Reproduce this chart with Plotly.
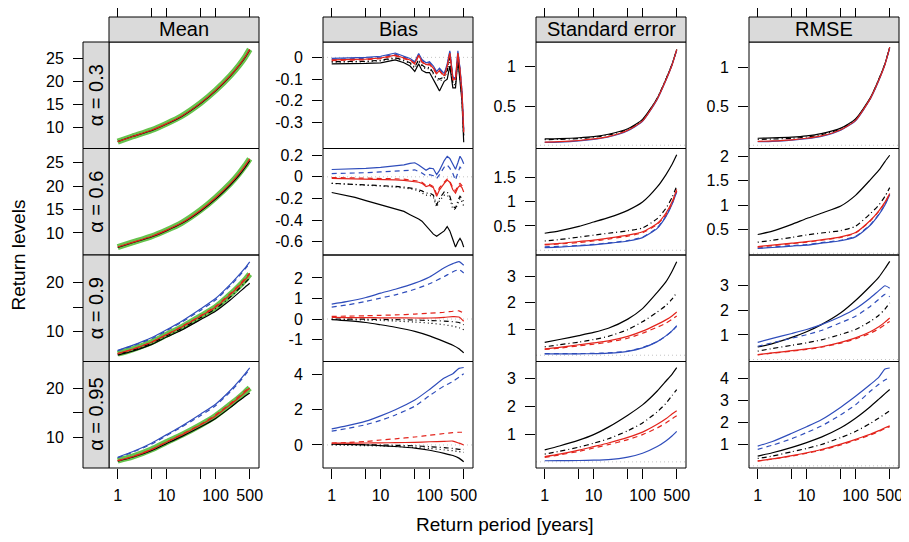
import plotly.graph_objects as go

# ---------------- data ----------------
X_S = [1, 2, 5, 10, 20, 50, 100, 200, 300, 400, 500]
X_N = [1, 2, 3, 5, 10, 20, 30, 40, 50, 60, 70, 85, 100, 120, 140, 160, 200, 230, 260, 300, 340, 380, 420, 460, 500]

COLUMNS = ["Mean", "Bias", "Standard error", "RMSE"]
ROWS = ["α = 0.3", "α = 0.6", "α = 0.9", "α = 0.95"]
X_TICKVALS = [1, 5, 10, 50, 100, 500]
X_TICKTEXT = ["1", "", "10", "", "100", "500"]

# Mean
M1_TRUE = [6.9, 8.0, 9.4, 10.8, 12.4, 15.3, 18.0, 21.2, 23.4, 25.2, 26.9]
M1_BLACK = [6.9, 8.0, 9.3, 10.7, 12.3, 15.2, 17.9, 21.1, 23.3, 25.1, 26.8]
M1_RED = [6.9, 8.0, 9.4, 10.8, 12.4, 15.3, 18.0, 21.2, 23.4, 25.2, 26.9]
M2_TRUE = [7.0, 8.0, 9.3, 10.6, 12.1, 14.9, 17.5, 20.5, 22.6, 24.3, 25.8]
M2_BLACK = [6.9, 7.9, 9.2, 10.5, 12.0, 14.7, 17.2, 20.2, 22.2, 23.9, 25.4]
M2_RED = [7.0, 8.0, 9.3, 10.6, 12.1, 14.9, 17.5, 20.5, 22.6, 24.3, 25.8]
M3_TRUE = [5.5, 6.4, 7.9, 9.4, 10.9, 13.2, 15.0, 17.6, 19.3, 20.6, 21.8]
M3_BLUE = [6.2, 7.2, 8.8, 10.4, 12.1, 14.7, 16.8, 19.7, 21.6, 23.0, 24.3]
M3_BLUE_D = [6.1, 7.1, 8.6, 10.2, 11.9, 14.4, 16.5, 19.4, 21.3, 22.8, 24.0]
M3_BLACK = [5.2, 6.0, 7.4, 8.9, 10.3, 12.5, 14.2, 16.5, 18.0, 19.1, 19.9]
M3_BLACK_DD = [5.4, 6.2, 7.7, 9.2, 10.6, 12.9, 14.7, 17.1, 18.8, 20.0, 21.0]
M3_RED = [5.5, 6.4, 7.9, 9.4, 10.9, 13.2, 15.0, 17.6, 19.3, 20.6, 21.8]
M3_RED_D = [5.5, 6.4, 7.9, 9.4, 11.0, 13.3, 15.2, 17.8, 19.5, 20.9, 22.0]
M4_TRUE = [5.2, 6.0, 7.5, 9.0, 10.4, 12.5, 14.3, 16.6, 18.0, 19.1, 20.0]
M4_BLUE = [5.9, 7.0, 8.8, 10.5, 12.2, 14.7, 16.7, 19.5, 21.4, 22.9, 24.1]
M4_BLUE_D = [5.8, 6.9, 8.6, 10.3, 12.0, 14.4, 16.4, 19.2, 21.1, 22.6, 23.8]
M4_BLACK = [5.1, 5.9, 7.3, 8.7, 10.1, 12.1, 13.8, 16.0, 17.4, 18.3, 19.0]
M4_RED = [5.2, 6.0, 7.5, 9.0, 10.4, 12.5, 14.3, 16.6, 18.0, 19.1, 20.0]
M4_RED_D = [5.2, 6.0, 7.5, 9.0, 10.5, 12.6, 14.5, 16.8, 18.3, 19.4, 20.2]

# Bias (rows 1-2 on the dense grid X_N)
B1_BLUE = [-0.005, -0.003, -0.002, 0.0, 0.005, 0.02, 0.005, -0.005, -0.02, 0.018, -0.01, -0.025, -0.02, -0.04, -0.065, -0.05, -0.075, -0.03, 0.03, -0.09, -0.095, 0.03, -0.05, -0.15, -0.33]
B1_BLUE_D = [-0.009, -0.007, -0.006, -0.004, 0.001, 0.015, 0.001, -0.009, -0.024, 0.013, -0.014, -0.029, -0.024, -0.044, -0.069, -0.054, -0.079, -0.035, 0.024, -0.094, -0.1, 0.024, -0.055, -0.155, -0.335]
B1_RED = [-0.012, -0.011, -0.01, -0.008, -0.003, 0.01, -0.003, -0.012, -0.028, 0.01, -0.02, -0.033, -0.03, -0.05, -0.075, -0.06, -0.085, -0.04, 0.02, -0.1, -0.1, 0.02, -0.06, -0.16, -0.34]
B1_RED_D = [-0.015, -0.014, -0.013, -0.011, -0.006, 0.007, -0.006, -0.015, -0.031, 0.007, -0.023, -0.036, -0.033, -0.053, -0.078, -0.063, -0.088, -0.043, 0.016, -0.104, -0.104, 0.016, -0.064, -0.165, -0.345]
B1_BLACK_DD = [-0.02, -0.02, -0.02, -0.018, -0.013, -0.002, -0.013, -0.025, -0.045, -0.01, -0.035, -0.05, -0.045, -0.07, -0.095, -0.1, -0.09, -0.06, 0.0, -0.12, -0.12, 0.0, -0.08, -0.18, -0.36]
B1_BLACK_DOT = [-0.022, -0.022, -0.022, -0.02, -0.016, -0.005, -0.016, -0.028, -0.05, -0.015, -0.04, -0.055, -0.05, -0.075, -0.1, -0.11, -0.095, -0.065, -0.005, -0.125, -0.125, -0.005, -0.085, -0.19, -0.37]
B1_BLACK = [-0.03, -0.03, -0.03, -0.028, -0.025, -0.012, -0.025, -0.04, -0.065, -0.03, -0.06, -0.07, -0.07, -0.1, -0.13, -0.155, -0.11, -0.1, -0.04, -0.14, -0.14, -0.01, -0.1, -0.2, -0.39]

B2_BLUE = [0.068, 0.07, 0.072, 0.078, 0.088, 0.1, 0.11, 0.125, 0.13, 0.11, 0.09, 0.06, 0.08, 0.075, 0.02, 0.06, 0.15, 0.19, 0.17, 0.12, 0.07, 0.13, 0.19, 0.16, 0.12]
B2_BLUE_D = [0.03, 0.032, 0.034, 0.038, 0.045, 0.05, 0.055, 0.06, 0.065, 0.05, 0.035, 0.01, 0.02, 0.01, -0.015, 0.02, 0.09, 0.11, 0.08, 0.03, -0.03, 0.04, 0.09, 0.07, 0.05]
B2_RED = [-0.015, -0.017, -0.018, -0.02, -0.025, -0.028, -0.032, -0.038, -0.04, -0.05, -0.06, -0.09, -0.08, -0.1, -0.18, -0.12, -0.06, -0.03, -0.05, -0.12, -0.15, -0.1, -0.08, -0.1, -0.14]
B2_RED_D = [-0.006, -0.008, -0.009, -0.01, -0.015, -0.018, -0.022, -0.028, -0.03, -0.04, -0.05, -0.08, -0.07, -0.09, -0.16, -0.1, -0.05, -0.02, -0.04, -0.1, -0.13, -0.08, -0.06, -0.08, -0.12]
B2_BLACK_DD = [-0.06, -0.065, -0.068, -0.072, -0.08, -0.088, -0.095, -0.1, -0.11, -0.12, -0.13, -0.15, -0.15, -0.17, -0.26, -0.2, -0.14, -0.14, -0.18, -0.27, -0.29, -0.22, -0.18, -0.2, -0.23]
B2_BLACK_DOT = [-0.06, -0.066, -0.07, -0.075, -0.085, -0.095, -0.1, -0.11, -0.12, -0.13, -0.15, -0.17, -0.17, -0.19, -0.28, -0.22, -0.17, -0.17, -0.2, -0.3, -0.3, -0.24, -0.2, -0.23, -0.27]
B2_BLACK = [-0.145, -0.17, -0.19, -0.22, -0.26, -0.3, -0.32, -0.35, -0.37, -0.39, -0.41, -0.45, -0.49, -0.53, -0.55, -0.53, -0.5, -0.46, -0.5, -0.58, -0.65, -0.6, -0.57, -0.6, -0.65]

B3_BLUE = [0.73, 0.85, 1.05, 1.26, 1.45, 1.75, 2.05, 2.5, 2.7, 2.8, 2.62]
B3_BLUE_D = [0.58, 0.68, 0.86, 1.02, 1.18, 1.45, 1.72, 2.07, 2.3, 2.4, 2.24]
B3_RED_D = [0.13, 0.14, 0.16, 0.18, 0.2, 0.24, 0.28, 0.33, 0.38, 0.4, 0.29]
B3_RED = [0.08, 0.07, 0.07, 0.06, 0.06, 0.05, 0.05, 0.08, 0.12, 0.1, -0.11]
B3_BLACK_DD = [0.0, 0.0, -0.01, -0.02, -0.03, -0.05, -0.07, -0.1, -0.13, -0.17, -0.28]
B3_BLACK_DOT = [-0.02, -0.03, -0.05, -0.07, -0.1, -0.15, -0.2, -0.28, -0.35, -0.42, -0.52]
B3_BLACK = [-0.03, -0.08, -0.17, -0.28, -0.4, -0.6, -0.82, -1.1, -1.28, -1.45, -1.65]

B4_BLUE = [0.91, 1.08, 1.35, 1.65, 2.0, 2.55, 3.15, 3.8, 4.05, 4.35, 4.4]
B4_BLUE_D = [0.78, 0.93, 1.15, 1.4, 1.7, 2.2, 2.8, 3.35, 3.6, 3.85, 4.05]
B4_RED_D = [0.1, 0.14, 0.2, 0.28, 0.35, 0.45, 0.55, 0.65, 0.7, 0.72, 0.72]
B4_RED = [0.1, 0.1, 0.11, 0.12, 0.13, 0.15, 0.18, 0.2, 0.22, 0.1, 0.0]
B4_BLACK_DD = [0.04, 0.03, 0.02, 0.0, -0.02, -0.05, -0.1, -0.15, -0.2, -0.25, -0.25]
B4_BLACK_DOT = [0.0, -0.02, -0.04, -0.06, -0.09, -0.14, -0.2, -0.28, -0.33, -0.38, -0.42]
B4_BLACK = [0.04, 0.03, 0.0, -0.04, -0.09, -0.18, -0.3, -0.48, -0.6, -0.75, -0.95]

# Standard error
S1_BLACK = [0.081, 0.085, 0.095, 0.11, 0.14, 0.21, 0.33, 0.6, 0.84, 1.03, 1.22]
S1_BLACK_DD = [0.07, 0.075, 0.085, 0.1, 0.13, 0.2, 0.32, 0.6, 0.84, 1.03, 1.22]
S1_RED = [0.04, 0.045, 0.06, 0.08, 0.11, 0.19, 0.31, 0.59, 0.83, 1.02, 1.22]
S1_BLUE = [0.035, 0.04, 0.055, 0.075, 0.105, 0.185, 0.305, 0.585, 0.825, 1.02, 1.21]
S2_BLACK = [0.35, 0.4, 0.49, 0.58, 0.67, 0.82, 0.99, 1.3, 1.55, 1.76, 1.96]
S2_BLACK_DD = [0.19, 0.22, 0.27, 0.31, 0.35, 0.4, 0.46, 0.65, 0.86, 1.08, 1.32]
S2_RED = [0.12, 0.14, 0.18, 0.21, 0.25, 0.31, 0.38, 0.55, 0.76, 0.99, 1.25]
S2_RED_D = [0.11, 0.13, 0.16, 0.19, 0.23, 0.29, 0.36, 0.53, 0.73, 0.96, 1.22]
S2_BLUE = [0.055, 0.065, 0.09, 0.11, 0.14, 0.19, 0.26, 0.45, 0.69, 0.94, 1.2]
S2_BLUE_D = [0.07, 0.08, 0.1, 0.12, 0.15, 0.2, 0.27, 0.46, 0.7, 0.95, 1.21]
S3_BLACK = [0.49, 0.6, 0.75, 0.87, 1.03, 1.38, 1.78, 2.4, 2.8, 3.2, 3.57]
S3_BLACK_DD = [0.32, 0.4, 0.5, 0.6, 0.72, 0.98, 1.28, 1.65, 1.9, 2.14, 2.39]
S3_RED = [0.24, 0.3, 0.4, 0.47, 0.55, 0.72, 0.92, 1.18, 1.35, 1.5, 1.65]
S3_RED_D = [0.22, 0.27, 0.36, 0.42, 0.5, 0.65, 0.84, 1.07, 1.22, 1.37, 1.5]
S3_BLUE = [0.05, 0.05, 0.055, 0.06, 0.08, 0.15, 0.28, 0.52, 0.74, 0.93, 1.13]
S3_BLUE_D = [0.06, 0.06, 0.065, 0.07, 0.09, 0.16, 0.29, 0.52, 0.73, 0.92, 1.1]
S4_BLACK = [0.43, 0.57, 0.78, 0.98, 1.25, 1.68, 2.05, 2.55, 2.9, 3.15, 3.39]
S4_BLACK_DD = [0.28, 0.38, 0.53, 0.67, 0.83, 1.12, 1.4, 1.8, 2.1, 2.38, 2.6]
S4_RED = [0.19, 0.28, 0.42, 0.55, 0.68, 0.88, 1.07, 1.35, 1.55, 1.72, 1.84]
S4_RED_D = [0.16, 0.25, 0.38, 0.5, 0.62, 0.8, 0.98, 1.22, 1.4, 1.55, 1.66]
S4_BLUE = [0.04, 0.045, 0.05, 0.06, 0.08, 0.17, 0.31, 0.55, 0.75, 0.93, 1.1]

# RMSE
R1_BLACK = [0.09, 0.094, 0.104, 0.12, 0.15, 0.22, 0.34, 0.61, 0.85, 1.05, 1.26]
R1_BLACK_DD = [0.075, 0.08, 0.09, 0.105, 0.135, 0.21, 0.33, 0.6, 0.85, 1.05, 1.26]
R1_RED = [0.05, 0.055, 0.07, 0.09, 0.12, 0.2, 0.32, 0.6, 0.84, 1.04, 1.26]
R1_BLUE = [0.045, 0.05, 0.065, 0.085, 0.115, 0.195, 0.315, 0.595, 0.835, 1.04, 1.25]
R2_BLACK = [0.39, 0.46, 0.6, 0.72, 0.83, 0.98, 1.2, 1.52, 1.72, 1.9, 2.03]
R2_BLACK_DD = [0.23, 0.27, 0.33, 0.38, 0.42, 0.47, 0.56, 0.82, 1.0, 1.18, 1.36]
R2_RED = [0.14, 0.17, 0.21, 0.24, 0.28, 0.34, 0.43, 0.68, 0.88, 1.06, 1.24]
R2_RED_D = [0.13, 0.16, 0.2, 0.23, 0.27, 0.33, 0.42, 0.67, 0.87, 1.05, 1.23]
R2_BLUE = [0.1, 0.12, 0.15, 0.17, 0.21, 0.26, 0.34, 0.58, 0.8, 1.0, 1.21]
R2_BLUE_D = [0.11, 0.13, 0.16, 0.18, 0.22, 0.27, 0.35, 0.59, 0.81, 1.01, 1.22]
R3_BLACK = [0.51, 0.65, 0.9, 1.13, 1.42, 1.9, 2.4, 2.98, 3.35, 3.7, 3.99]
R3_BLUE = [0.7, 0.86, 1.06, 1.22, 1.42, 1.75, 2.06, 2.5, 2.8, 3.0, 2.9]
R3_BLUE_D = [0.54, 0.68, 0.87, 1.01, 1.18, 1.5, 1.76, 2.16, 2.45, 2.65, 2.55]
R3_BLACK_DD = [0.34, 0.45, 0.58, 0.68, 0.8, 1.02, 1.22, 1.55, 1.8, 2.05, 2.3]
R3_RED = [0.2, 0.27, 0.36, 0.43, 0.52, 0.7, 0.88, 1.13, 1.33, 1.52, 1.69]
R3_RED_D = [0.19, 0.26, 0.34, 0.41, 0.5, 0.67, 0.84, 1.07, 1.25, 1.42, 1.55]
R4_BLUE = [0.91, 1.12, 1.5, 1.8, 2.12, 2.7, 3.2, 3.74, 4.08, 4.45, 4.5]
R4_BLUE_D = [0.76, 0.95, 1.25, 1.53, 1.83, 2.35, 2.81, 3.43, 3.75, 3.95, 4.05]
R4_BLACK = [0.45, 0.6, 0.85, 1.07, 1.32, 1.75, 2.19, 2.72, 3.07, 3.32, 3.51]
R4_BLACK_DD = [0.34, 0.45, 0.65, 0.8, 0.98, 1.3, 1.58, 1.95, 2.2, 2.38, 2.53]
R4_RED = [0.23, 0.32, 0.47, 0.6, 0.75, 1.0, 1.22, 1.45, 1.62, 1.75, 1.84]
R4_RED_D = [0.22, 0.31, 0.45, 0.58, 0.72, 0.96, 1.18, 1.42, 1.58, 1.72, 1.8]

# y axes (per row, per column)
Y_RANGES = [
    [[5.4, 28.5], [-0.419, 0.0706], [-0.042, 1.317], [-0.042, 1.33]],
    [[5.3, 28.0], [-0.723, 0.262], [-0.097, 2.09], [-0.035, 2.17]],
    [[3.9, 25.7], [-2.07, 3.12], [-0.24, 3.83], [-0.08, 4.25]],
    [[3.7, 25.4], [-1.31, 4.74], [-0.22, 3.61], [-0.1, 4.8]],
]
Y_TICKVALS = [
    [[10, 15, 20, 25], [0, -0.1, -0.2, -0.3], [0.5, 1], [0.5, 1]],
    [[10, 15, 20, 25], [0.2, 0, -0.2, -0.4, -0.6], [0.5, 1, 1.5], [0.5, 1, 1.5, 2]],
    [[10, 15, 20], [2, 1, 0, -1], [1, 2, 3], [1, 2, 3]],
    [[10, 15, 20], [4, 2, 0], [1, 2, 3], [1, 2, 3, 4]],
]
Y_TICKTEXT = [
    [["10", "15", "20", "25"], ["0", "-0.1", "-0.2", "-0.3"], ["0.5", "1"], ["0.5", "1"]],
    [["10", "15", "20", "25"], ["0.2", "0", "-0.2", "-0.4", "-0.6"], ["0.5", "1", "1.5"], ["0.5", "1", "1.5", "2"]],
    [["10", "", "20"], ["2", "1", "0", "-1"], ["1", "2", "3"], ["1", "2", "3"]],
    [["10", "", "20"], ["4", "2", "0"], ["1", "2", "3"], ["1", "2", "3", "4"]],
]

# ---------------- styling ----------------
W, H = 909, 542
OFF = 8  # page body margin of the html page
COL_L = [109 - OFF, 323 - OFF, 536 - OFF, 749 - OFF]
PW = 150
ROW_T = [42 - OFF, 148.5 - OFF, 255 - OFF, 361.5 - OFF]
PH = 106.5
STRIP_TOP = 17 - OFF
LSTRIP_L = 83 - OFF
X_RANGE = [-0.178, 2.889]
FONT = "Liberation Sans, Arial, Helvetica, sans-serif"
GREEN = "#66c34d"
RED = "#e3241c"
BLUE = "#2f4dbb"
BLACK = "#000000"
STRIP_FILL = "#dadada"
LW = 1.2
STYLES = {
    "true": dict(color=GREEN, width=6),
    "k": dict(color=BLACK, width=LW),
    "k_dd": dict(color=BLACK, width=LW, dash="1px,3px,5px,3px"),
    "k_dot": dict(color=BLACK, width=LW, dash="1px,3px"),
    "r": dict(color=RED, width=LW),
    "r_d": dict(color=RED, width=LW, dash="5px,4px"),
    "b": dict(color=BLUE, width=LW),
    "b_d": dict(color=BLUE, width=LW, dash="5px,4px"),
}

PANELS = [
    [
        (X_S, [("true", M1_TRUE), ("k", M1_BLACK), ("r", M1_RED)]),
        (X_N, [("k", B1_BLACK), ("k_dot", B1_BLACK_DOT), ("k_dd", B1_BLACK_DD), ("b_d", B1_BLUE_D), ("b", B1_BLUE), ("r_d", B1_RED_D), ("r", B1_RED)]),
        (X_S, [("k", S1_BLACK), ("k_dd", S1_BLACK_DD), ("b", S1_BLUE), ("r", S1_RED)]),
        (X_S, [("k", R1_BLACK), ("k_dd", R1_BLACK_DD), ("b", R1_BLUE), ("r", R1_RED)]),
    ],
    [
        (X_S, [("true", M2_TRUE), ("k", M2_BLACK), ("r", M2_RED)]),
        (X_N, [("k", B2_BLACK), ("k_dot", B2_BLACK_DOT), ("k_dd", B2_BLACK_DD), ("b_d", B2_BLUE_D), ("b", B2_BLUE), ("r_d", B2_RED_D), ("r", B2_RED)]),
        (X_S, [("k", S2_BLACK), ("k_dd", S2_BLACK_DD), ("b_d", S2_BLUE_D), ("b", S2_BLUE), ("r_d", S2_RED_D), ("r", S2_RED)]),
        (X_S, [("k", R2_BLACK), ("k_dd", R2_BLACK_DD), ("b_d", R2_BLUE_D), ("b", R2_BLUE), ("r_d", R2_RED_D), ("r", R2_RED)]),
    ],
    [
        (X_S, [("true", M3_TRUE), ("k", M3_BLACK), ("k_dd", M3_BLACK_DD), ("b_d", M3_BLUE_D), ("b", M3_BLUE), ("r_d", M3_RED_D), ("r", M3_RED)]),
        (X_S, [("k", B3_BLACK), ("k_dot", B3_BLACK_DOT), ("k_dd", B3_BLACK_DD), ("b_d", B3_BLUE_D), ("b", B3_BLUE), ("r_d", B3_RED_D), ("r", B3_RED)]),
        (X_S, [("k", S3_BLACK), ("k_dd", S3_BLACK_DD), ("b_d", S3_BLUE_D), ("b", S3_BLUE), ("r_d", S3_RED_D), ("r", S3_RED)]),
        (X_S, [("k", R3_BLACK), ("k_dd", R3_BLACK_DD), ("b_d", R3_BLUE_D), ("b", R3_BLUE), ("r_d", R3_RED_D), ("r", R3_RED)]),
    ],
    [
        (X_S, [("true", M4_TRUE), ("k", M4_BLACK), ("b_d", M4_BLUE_D), ("b", M4_BLUE), ("r_d", M4_RED_D), ("r", M4_RED)]),
        (X_S, [("k", B4_BLACK), ("k_dot", B4_BLACK_DOT), ("k_dd", B4_BLACK_DD), ("b_d", B4_BLUE_D), ("b", B4_BLUE), ("r_d", B4_RED_D), ("r", B4_RED)]),
        (X_S, [("k", S4_BLACK), ("k_dd", S4_BLACK_DD), ("b", S4_BLUE), ("r_d", S4_RED_D), ("r", S4_RED)]),
        (X_S, [("k", R4_BLACK), ("k_dd", R4_BLACK_DD), ("b_d", R4_BLUE_D), ("b", R4_BLUE), ("r_d", R4_RED_D), ("r", R4_RED)]),
    ],
]

fig = go.Figure()
layout = dict(
    width=W, height=H, margin=dict(l=0, r=0, t=0, b=0, autoexpand=False),
    paper_bgcolor="white", plot_bgcolor="white", showlegend=False,
    font=dict(family=FONT, size=16, color="black"),
)
shapes = []
annotations = []

for r in range(4):
    for c in range(4):
        k = r * 4 + c + 1
        xs = "x" if k == 1 else f"x{k}"
        ys = "y" if k == 1 else f"y{k}"
        xd = [COL_L[c] / W, (COL_L[c] + PW) / W]
        yd = [1 - (ROW_T[r] + PH) / H, 1 - ROW_T[r] / H]
        xref, series = PANELS[r][c]
        smooth = xref is X_S
        if c > 0:
            shapes.append(dict(type="line", xref=f"{xs} domain", yref=ys, x0=0, x1=1, y0=0, y1=0,
                               line=dict(color="#c4c4c4", width=1, dash="1px,3px"), layer="below"))
        shapes.append(dict(type="rect", xref=f"{xs} domain", yref=f"{ys} domain", x0=0, x1=1, y0=0, y1=1,
                           line=dict(color="black", width=1), fillcolor="rgba(0,0,0,0)", layer="above"))
        for style, vals in series:
            line = dict(STYLES[style])
            if smooth:
                line.update(shape="spline", smoothing=0.6)
            fig.add_trace(go.Scatter(x=xref, y=vals, mode="lines", line=line,
                                     xaxis=xs, yaxis=ys, hoverinfo="skip"))
        bottom = (r == 3)
        layout["xaxis" if k == 1 else f"xaxis{k}"] = dict(
            domain=xd, anchor=ys, type="log", range=X_RANGE, automargin=False,
            showgrid=False, zeroline=False, showline=False,
            ticks="outside" if bottom else "", ticklen=10, tickwidth=1, tickcolor="black",
            tickvals=X_TICKVALS, ticktext=X_TICKTEXT, showticklabels=bottom,
            tickfont=dict(size=16, family=FONT), ticklabelstandoff=3,
        )
        yax = dict(
            domain=yd, anchor=xs, range=Y_RANGES[r][c], automargin=False,
            showgrid=False, zeroline=False, showline=False,
            ticks="outside", ticklen=10, tickwidth=1, tickcolor="black",
            tickvals=Y_TICKVALS[r][c], ticktext=Y_TICKTEXT[r][c],
            tickfont=dict(size=16, family=FONT), ticklabelstandoff=6,
        )
        if c == 0:
            yax.update(anchor="free", position=LSTRIP_L / W)
        layout["yaxis" if k == 1 else f"yaxis{k}"] = yax

# top tick axes above the column strips
for c in range(4):
    k = 17 + c
    base = "x" if c == 0 else f"x{c + 1}"
    fig.add_trace(go.Scatter(x=[None], y=[None], xaxis=f"x{k}", yaxis="y" if c == 0 else f"y{c + 1}",
                             mode="lines", hoverinfo="skip"))
    layout[f"xaxis{k}"] = dict(
        overlaying=base, anchor="free", position=1 - STRIP_TOP / H, side="top", automargin=False,
        type="log", range=X_RANGE, showgrid=False, zeroline=False, showline=False,
        ticks="outside", ticklen=10, tickwidth=1, tickcolor="black",
        tickvals=X_TICKVALS, showticklabels=False,
    )

# column strips
for c, name in enumerate(COLUMNS):
    x0, x1 = COL_L[c] / W, (COL_L[c] + PW) / W
    y0, y1 = 1 - ROW_T[0] / H, 1 - STRIP_TOP / H
    shapes.append(dict(type="rect", xref="paper", yref="paper", x0=x0, x1=x1, y0=y0, y1=y1,
                       fillcolor=STRIP_FILL, line=dict(color="black", width=1), layer="above"))
    annotations.append(dict(text=name, xref="paper", yref="paper", x=(x0 + x1) / 2, y=(y0 + y1) / 2,
                            xanchor="center", yanchor="middle", showarrow=False,
                            font=dict(size=20, family=FONT, color="black")))

# row strips
for r, name in enumerate(ROWS):
    x0, x1 = LSTRIP_L / W, COL_L[0] / W
    y0, y1 = 1 - (ROW_T[r] + PH) / H, 1 - ROW_T[r] / H
    shapes.append(dict(type="rect", xref="paper", yref="paper", x0=x0, x1=x1, y0=y0, y1=y1,
                       fillcolor=STRIP_FILL, line=dict(color="black", width=1), layer="above"))
    annotations.append(dict(text=name, xref="paper", yref="paper", x=(x0 + x1) / 2, y=(y0 + y1) / 2,
                            xanchor="center", yanchor="middle", showarrow=False, textangle=-90,
                            font=dict(size=20, family=FONT, color="black")))

annotations.append(dict(text="Return levels", xref="paper", yref="paper", x=(18.5 - OFF) / W, y=1 - (255 - OFF) / H,
                        xanchor="center", yanchor="middle", showarrow=False, textangle=-90,
                        font=dict(size=19, family=FONT, color="black")))
annotations.append(dict(text="Return period [years]", xref="paper", yref="paper", x=(504 - OFF) / W, y=1 - (524 - OFF) / H,
                        xanchor="center", yanchor="middle", showarrow=False,
                        font=dict(size=19, family=FONT, color="black")))

layout["shapes"] = shapes
layout["annotations"] = annotations
fig.update_layout(**layout)
fig.write_html("out.html")
